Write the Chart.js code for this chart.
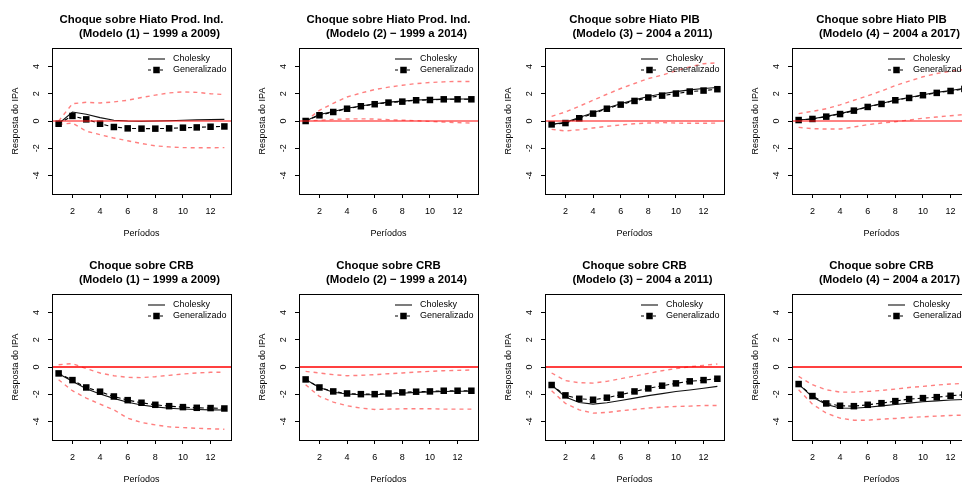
<!DOCTYPE html>
<html><head><meta charset="utf-8">
<script src="https://cdn.jsdelivr.net/npm/chart.js@4.4.0/dist/chart.umd.min.js"></script>
<style>
html,body{margin:0;padding:0;background:#fff;overflow:hidden;width:962px;height:483px;position:relative;}
canvas{position:absolute;}
</style></head><body>
<script>
// ---------- data ----------
const PERIODS = [1,2,3,4,5,6,7,8,9,10,11,12,13];
const X_TICKS = [2,4,6,8,10,12];
const Y_TICKS = [-4,-2,0,2,4];
const SERIES_NAMES = ['Cholesky','Generalizado'];
const X_TITLE = 'Períodos';
const Y_TITLE = 'Resposta do IPA';
const TITLE_LINE1 = ['Choque sobre Hiato Prod. Ind.','Choque sobre Hiato Prod. Ind.','Choque sobre Hiato PIB','Choque sobre Hiato PIB',
                     'Choque sobre CRB','Choque sobre CRB','Choque sobre CRB','Choque sobre CRB'];
const TITLE_LINE2 = ['(Modelo (1) − 1999 a 2009)','(Modelo (2) − 1999 a 2014)','(Modelo (3) − 2004 a 2011)','(Modelo (4) − 2004 a 2017)',
                     '(Modelo (1) − 1999 a 2009)','(Modelo (2) − 1999 a 2014)','(Modelo (3) − 2004 a 2011)','(Modelo (4) − 2004 a 2017)'];

const CHOL_1 = [-0.2, 0.66, 0.5, 0.25, 0.05, 0.0, -0.02, 0.0, 0.02, 0.05, 0.08, 0.1, 0.12];
const GEN_1  = [-0.2, 0.37, 0.12, -0.2, -0.44, -0.54, -0.56, -0.56, -0.54, -0.49, -0.47, -0.42, -0.4];
const UP_1   = [0.0, 1.27, 1.37, 1.32, 1.4, 1.52, 1.72, 1.9, 2.06, 2.13, 2.1, 2.0, 1.94];
const LO_1   = [-0.25, -0.15, -0.75, -1.0, -1.25, -1.45, -1.65, -1.82, -1.9, -1.95, -1.96, -1.96, -1.95];

const CHOL_2 = [0.0, 0.47, 0.7, 0.93, 1.1, 1.26, 1.38, 1.46, 1.54, 1.57, 1.6, 1.61, 1.61];
const GEN_2  = [0.0, 0.42, 0.66, 0.9, 1.08, 1.23, 1.35, 1.42, 1.52, 1.54, 1.59, 1.59, 1.59];
const UP_2   = [0.0, 0.78, 1.3, 1.76, 2.05, 2.3, 2.48, 2.62, 2.74, 2.82, 2.87, 2.9, 2.9];
const LO_2   = [0.0, 0.05, 0.12, 0.15, 0.16, 0.14, 0.1, 0.06, 0.02, -0.03, -0.08, -0.12, -0.15];

const CHOL_3 = [-0.25, -0.1, 0.25, 0.6, 0.95, 1.27, 1.55, 1.8, 2.0, 2.15, 2.28, 2.38, 2.45];
const GEN_3  = [-0.25, -0.15, 0.2, 0.54, 0.9, 1.2, 1.47, 1.72, 1.86, 2.01, 2.16, 2.23, 2.33];
const UP_3   = [0.34, 0.66, 1.08, 1.52, 1.96, 2.38, 2.75, 3.11, 3.36, 3.68, 3.97, 4.2, 4.26];
const LO_3   = [-0.61, -0.73, -0.64, -0.51, -0.39, -0.29, -0.2, -0.15, -0.12, -0.15, -0.17, -0.17, -0.15];

const CHOL_4 = [0.07, 0.16, 0.34, 0.54, 0.78, 1.05, 1.28, 1.54, 1.72, 1.92, 2.1, 2.24, 2.4];
const GEN_4  = [0.07, 0.15, 0.32, 0.51, 0.76, 1.03, 1.25, 1.52, 1.69, 1.89, 2.06, 2.2, 2.35];
const UP_4   = [0.54, 0.71, 0.9, 1.18, 1.52, 1.84, 2.2, 2.6, 2.92, 3.24, 3.48, 3.65, 3.77];
const LO_4   = [-0.47, -0.56, -0.59, -0.59, -0.44, -0.27, -0.15, -0.05, 0.07, 0.2, 0.29, 0.39, 0.47];

const CHOL_5 = [-0.5, -1.05, -1.6, -1.98, -2.3, -2.58, -2.78, -2.92, -3.02, -3.08, -3.12, -3.14, -3.15];
const GEN_5  = [-0.47, -0.96, -1.5, -1.81, -2.16, -2.43, -2.62, -2.77, -2.87, -2.94, -2.99, -3.01, -3.04];
const UP_5   = [0.17, 0.25, -0.12, -0.44, -0.64, -0.76, -0.78, -0.71, -0.61, -0.51, -0.44, -0.39, -0.39];
const LO_5   = [-0.93, -1.74, -2.28, -2.72, -3.14, -3.75, -4.07, -4.24, -4.39, -4.44, -4.49, -4.53, -4.56];

const CHOL_6 = [-0.91, -1.5, -1.85, -1.98, -2.03, -2.03, -1.98, -1.92, -1.86, -1.82, -1.8, -1.78, -1.78];
const GEN_6  = [-0.91, -1.5, -1.79, -1.94, -1.99, -1.99, -1.94, -1.86, -1.81, -1.79, -1.74, -1.74, -1.74];
const UP_6   = [-0.32, -0.44, -0.56, -0.64, -0.61, -0.56, -0.49, -0.44, -0.37, -0.32, -0.27, -0.25, -0.22];
const LO_6   = [-1.3, -2.16, -2.57, -2.84, -3.01, -3.11, -3.09, -3.06, -3.06, -3.06, -3.09, -3.09, -3.09];

const CHOL_7 = [-1.32, -2.2, -2.6, -2.72, -2.62, -2.45, -2.28, -2.1, -1.95, -1.8, -1.68, -1.56, -1.42];
const GEN_7  = [-1.32, -2.08, -2.33, -2.4, -2.25, -2.03, -1.79, -1.57, -1.37, -1.2, -1.05, -0.96, -0.86];
const UP_7   = [-0.44, -1.0, -1.15, -1.18, -1.05, -0.86, -0.66, -0.47, -0.27, -0.12, 0.02, 0.12, 0.22];
const LO_7   = [-1.74, -2.67, -3.14, -3.38, -3.33, -3.21, -3.11, -3.01, -2.94, -2.89, -2.87, -2.82, -2.82];

const CHOL_8 = [-1.25, -2.2, -2.75, -3.0, -3.02, -2.95, -2.85, -2.75, -2.65, -2.55, -2.48, -2.42, -2.38];
const GEN_8  = [-1.25, -2.13, -2.67, -2.84, -2.87, -2.77, -2.65, -2.5, -2.35, -2.28, -2.21, -2.11, -2.03];
const UP_8   = [-0.69, -1.3, -1.67, -1.84, -1.84, -1.79, -1.72, -1.62, -1.5, -1.42, -1.32, -1.25, -1.2];
const LO_8   = [-1.67, -2.72, -3.38, -3.75, -3.9, -3.9, -3.82, -3.77, -3.7, -3.65, -3.6, -3.55, -3.53];

const CHOL = [CHOL_1, CHOL_2, CHOL_3, CHOL_4, CHOL_5, CHOL_6, CHOL_7, CHOL_8];
const GEN  = [GEN_1, GEN_2, GEN_3, GEN_4, GEN_5, GEN_6, GEN_7, GEN_8];
const UP   = [UP_1, UP_2, UP_3, UP_4, UP_5, UP_6, UP_7, UP_8];
const LO   = [LO_1, LO_2, LO_3, LO_4, LO_5, LO_6, LO_7, LO_8];

// ---------- style / layout ----------
const FONT = '"Liberation Sans", Arial, Helvetica, sans-serif';
const CW = 247, CH = 242;
const X_MIN = 0.52, X_MAX = 13.48, Y_MIN = -5.35, Y_MAX = 5.35;
const BAND_COLOR = 'rgba(255,0,0,0.5)';

const rPlugin = {
  id: 'rstyle',
  afterDatasetsDraw(chart) {
    const {ctx, chartArea: a, scales: {y}} = chart;
    const row = chart.options.plugins.rstyle.row;
    const py = y.getPixelForValue(0);
    ctx.save();
    ctx.beginPath();
    ctx.rect(a.left, a.top, a.right - a.left, a.bottom - a.top);
    ctx.clip();
    ctx.strokeStyle = row === 0 ? 'rgba(255,30,30,0.55)' : '#ff0000';
    ctx.lineWidth = row === 0 ? 2.2 : 1.3;
    ctx.beginPath();
    ctx.moveTo(a.left, py); ctx.lineTo(a.right, py);
    ctx.stroke();
    ctx.restore();
  },
  afterDraw(chart) {
    const {ctx, chartArea: a, scales: {y}} = chart;
    const o = chart.options.plugins.rstyle;
    ctx.save();
    // frame
    ctx.strokeStyle = '#000'; ctx.lineWidth = 1; ctx.setLineDash([]);
    const l = Math.round(a.left) + 0.5, t = Math.round(a.top) + 0.5;
    ctx.strokeRect(l, t, Math.round(a.right) - Math.round(a.left), Math.round(a.bottom) - Math.round(a.top));
    // y tick labels (rotated, R style)
    ctx.fillStyle = '#000';
    ctx.font = '9px ' + FONT;
    ctx.textAlign = 'center'; ctx.textBaseline = 'middle';
    Y_TICKS.forEach(v => {
      const p = y.getPixelForValue(v);
      ctx.save(); ctx.translate(a.left - 15, p); ctx.rotate(-Math.PI / 2);
      ctx.fillText(String(v), 0, 0); ctx.restore();
    });
    // title
    const cx = (a.left + a.right) / 2;
    ctx.font = 'bold 11.4px ' + FONT;
    ctx.textBaseline = 'alphabetic';
    ctx.fillText(o.title1, cx, 23);
    ctx.fillText(o.title2, cx + 8, 36.5);
    // legend
    const ds = chart.data.datasets;
    const lx0 = a.left + 96, lx1 = a.left + 113, tx = a.left + 121;
    const r1 = a.top + 11, r2 = a.top + 22;
    ctx.font = '9px ' + FONT;
    ctx.textAlign = 'left'; ctx.textBaseline = 'middle';
    // Cholesky
    ctx.strokeStyle = ds[1].borderColor; ctx.lineWidth = ds[1].borderWidth;
    ctx.beginPath(); ctx.moveTo(lx0, r1); ctx.lineTo(lx1, r1); ctx.stroke();
    ctx.fillText(ds[1].label, tx, r1);
    // Generalizado
    ctx.strokeStyle = ds[0].borderColor; ctx.lineWidth = ds[0].borderWidth;
    ctx.setLineDash([3, 3]);
    ctx.beginPath(); ctx.moveTo(lx0, r2); ctx.lineTo(lx1, r2); ctx.stroke();
    ctx.setLineDash([]);
    ctx.fillStyle = ds[0].pointBackgroundColor;
    const s = 6.5, mx = (lx0 + lx1) / 2;
    ctx.fillRect(mx - s / 2, r2 - s / 2, s, s);
    ctx.fillStyle = '#000';
    ctx.fillText(ds[0].label, tx, r2);
    ctx.restore();
  }
};

function pts(arr) { return PERIODS.map((p, i) => ({x: p, y: arr[i]})); }

for (let k = 0; k < 8; k++) {
  const row = Math.floor(k / 4), col = k % 4;
  const cv = document.createElement('canvas');
  cv.width = CW; cv.height = CH;
  cv.style.left = Math.round(col * 246.67) + 'px';
  cv.style.top = (row * 246) + 'px';
  cv.style.width = CW + 'px'; cv.style.height = CH + 'px';
  document.body.appendChild(cv);

  new Chart(cv, {
    type: 'line',
    data: {
      datasets: [
        {label: SERIES_NAMES[1], data: pts(GEN[k]), borderColor: '#000', borderWidth: 1.1, borderDash: [4, 3],
         pointStyle: 'rect', pointRadius: 4.6, pointBackgroundColor: '#000', pointBorderWidth: 0, tension: 0},
        {label: SERIES_NAMES[0], data: pts(CHOL[k]), borderColor: '#111', borderWidth: 1.1, pointRadius: 0, tension: 0},
        {label: 'Limite superior', data: pts(UP[k]), borderColor: BAND_COLOR, borderWidth: 1.4, borderDash: [4, 4], pointRadius: 0, tension: 0},
        {label: 'Limite inferior', data: pts(LO[k]), borderColor: BAND_COLOR, borderWidth: 1.4, borderDash: [4, 4], pointRadius: 0, tension: 0}
      ]
    },
    options: {
      responsive: false, animation: false, devicePixelRatio: 1, events: [],
      layout: {padding: {top: 48, right: 16, bottom: 0, left: 0}},
      plugins: {
        legend: {display: false}, tooltip: {enabled: false}, title: {display: false},
        rstyle: {row: row, title1: TITLE_LINE1[k], title2: TITLE_LINE2[k]}
      },
      scales: {
        x: {
          type: 'linear', min: X_MIN, max: X_MAX,
          afterBuildTicks: s => { s.ticks = X_TICKS.map(v => ({value: v})); },
          afterFit: s => { s.height = 48; },
          ticks: {font: {size: 9, family: FONT}, color: '#000', padding: 8, maxRotation: 0, autoSkip: false},
          grid: {display: true, drawOnChartArea: false, drawTicks: true, tickLength: 4, color: '#000', lineWidth: 1},
          border: {display: false},
          title: {display: true, text: X_TITLE, font: {size: 9, family: FONT}, color: '#000', padding: {top: 0, bottom: 3.2}}
        },
        y: {
          type: 'linear', min: Y_MIN, max: Y_MAX,
          afterBuildTicks: s => { s.ticks = Y_TICKS.map(v => ({value: v})); },
          afterFit: s => { s.width = 52; },
          ticks: {display: false},
          grid: {display: true, drawOnChartArea: false, drawTicks: true, tickLength: 4, color: '#000', lineWidth: 1},
          border: {display: false},
          title: {display: true, text: Y_TITLE, font: {size: 9, family: FONT}, color: '#000', padding: {top: 10.4, bottom: 0}}
        }
      }
    },
    plugins: [rPlugin]
  });
}
</script>
</body></html>
